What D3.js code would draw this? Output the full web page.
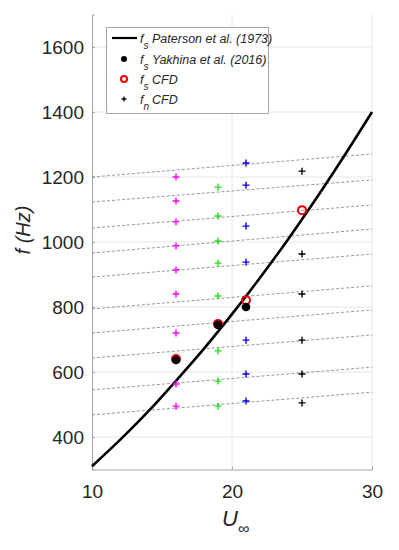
<!DOCTYPE html>
<html>
<head>
<meta charset="utf-8">
<script src="https://cdn.jsdelivr.net/npm/d3@7"></script>
<style>
  html, body { margin: 0; padding: 0; background: #fff; }
  svg { display: block; }
  text { font-family: "Liberation Sans", Arial, sans-serif; }
</style>
</head>
<body>
<svg id="chart" width="399" height="550"></svg>
<script>
// ---- data ----
const xTicks = [10, 20, 30];
const yTicks = [400, 600, 800, 1000, 1200, 1400, 1600];

// Paterson et al. (1973) curve samples
const patersonU = [10, 12, 14, 16, 18, 20, 22, 24, 26, 28, 30];
const patersonF = [310, 391, 478, 573, 672, 778, 890, 1008, 1133, 1264, 1400];

// Yakhina et al. (2016)
const yakhinaU = [16, 19, 21];
const yakhinaF = [637, 745, 800];

// fs CFD
const cfdU = [16, 19, 21, 25];
const cfdF = [640, 748, 821, 1098];

// fn CFD (plus markers) per velocity
const fnU = [16, 19, 21, 25];
const fnColors = ["#ff00ff", "#22dd22", "#0000ee", "#000000"];
const fn16 = [1200, 1126, 1062, 988, 914, 840, 720, 563, 495];
const fn19 = [1169, 1080, 1003, 935, 834, 665, 572, 495];
const fn21 = [1243, 1175, 1049, 938, 698, 594, 511];
const fn25 = [1218, 963, 840, 698, 594, 505];
const fnValues = [fn16, fn19, fn21, fn25];

// dashed mode lines (value at U=10 and U=30)
const modeU = [10, 30];
const modeStart = [1200, 1123, 1043, 966, 892, 794, 720, 643, 545, 468];
const modeEnd = [1271, 1191, 1114, 1040, 963, 865, 791, 714, 615, 538];

// ---- drawing ----
const svg = d3.select("#chart");
const x = d3.scaleLinear().domain([10, 30]).range([92, 372]);
const y = d3.scaleLinear().domain([300, 1700]).range([469.5, 14.5]);

const gridColor = "#e6e6e6";
const axisColor = "#a6a6a6";
const textColor = "#262626";

// grid
svg.append("g").selectAll("line.gy").data(yTicks).join("line")
  .attr("x1", x(10)).attr("x2", x(30))
  .attr("y1", d => y(d)).attr("y2", d => y(d))
  .attr("stroke", gridColor).attr("stroke-width", 1);
svg.append("g").selectAll("line.gx").data(xTicks.slice(1)).join("line")
  .attr("x1", d => x(d)).attr("x2", d => x(d))
  .attr("y1", y(300)).attr("y2", y(1700))
  .attr("stroke", gridColor).attr("stroke-width", 1);

// axes
const xAxis = d3.axisBottom(x).tickValues(xTicks).tickSize(-3).tickPadding(10).tickFormat(d3.format("d"));
const yAxis = d3.axisLeft(y).tickValues(yTicks).tickSize(-3).tickPadding(8).tickFormat(d3.format("d"));

const gx = svg.append("g").attr("transform", `translate(0,${y(300)})`).call(xAxis);
const gy = svg.append("g").attr("transform", `translate(${x(10)},0)`).call(yAxis);
[gx, gy].forEach(g => {
  g.select(".domain").attr("stroke", axisColor).attr("stroke-width", 1);
  g.selectAll(".tick line").attr("stroke", axisColor);
  g.selectAll(".tick text").attr("fill", textColor).attr("font-size", 19)
    .attr("font-family", "'Liberation Sans', Arial, sans-serif");
});
gx.selectAll(".tick text").attr("dy", "0.95em");

// dashed mode lines
const lineGen = d3.line().x(d => x(d[0])).y(d => y(d[1]));
svg.append("g").selectAll("path").data(modeStart.map((s, i) => [[modeU[0], s], [modeU[1], modeEnd[i]]]))
  .join("path")
  .attr("d", lineGen)
  .attr("fill", "none")
  .attr("stroke", "#8c8c8c")
  .attr("stroke-width", 0.9)
  .attr("stroke-dasharray", "3,2");

// Paterson curve
svg.append("path")
  .datum(patersonU.map((u, i) => [u, patersonF[i]]))
  .attr("d", d3.line().curve(d3.curveCatmullRom).x(d => x(d[0])).y(d => y(d[1])))
  .attr("fill", "none").attr("stroke", "#000").attr("stroke-width", 2.6);

// plus markers
function plusPath(cx, cy, s) {
  return `M${cx - s},${cy}H${cx + s}M${cx},${cy - s}V${cy + s}`;
}
const plusData = [];
fnU.forEach((u, i) => fnValues[i].forEach(f => plusData.push({ u, f, c: fnColors[i] })));
svg.append("g").selectAll("path").data(plusData).join("path")
  .attr("d", d => plusPath(x(d.u), y(d.f), 3.5))
  .attr("stroke", d => d.c).attr("stroke-width", 1.4).attr("fill", "none");

// fs CFD red circles
svg.append("g").selectAll("circle").data(cfdU.map((u, i) => [u, cfdF[i]])).join("circle")
  .attr("cx", d => x(d[0])).attr("cy", d => y(d[1])).attr("r", 4)
  .attr("fill", "none").attr("stroke", "#ee0000").attr("stroke-width", 2);

// Yakhina black dots
svg.append("g").selectAll("circle").data(yakhinaU.map((u, i) => [u, yakhinaF[i]])).join("circle")
  .attr("cx", d => x(d[0])).attr("cy", d => y(d[1])).attr("r", 4.3)
  .attr("fill", "#000");

// axis labels
svg.append("text")
  .attr("transform", "translate(30,230) rotate(-90)")
  .attr("text-anchor", "middle")
  .attr("font-size", 20).attr("font-style", "italic").attr("fill", textColor)
  .text("f (Hz)");

const xl = svg.append("text")
  .attr("x", 222).attr("y", 526)
  .attr("font-size", 22).attr("font-style", "italic").attr("fill", textColor);
xl.append("tspan").text("U");
xl.append("tspan").attr("font-size", 16).attr("dy", 8).attr("font-style", "normal").text("∞");

// legend
const lg = svg.append("g");
lg.append("rect").attr("x", 106.5).attr("y", 27.5).attr("width", 162).attr("height", 86)
  .attr("fill", "#fff").attr("stroke", "#a6a6a6").attr("stroke-width", 1);

const legendRows = [
  { sub: "s", label: "Paterson et al. (1973)", type: "line" },
  { sub: "s", label: "Yakhina et al. (2016)", type: "dot" },
  { sub: "s", label: "CFD", type: "ring" },
  { sub: "n", label: "CFD", type: "plus" }
];
const rowY = [38, 59, 79, 99];
legendRows.forEach((r, i) => {
  const cy = rowY[i];
  if (r.type === "line") {
    lg.append("line").attr("x1", 112).attr("x2", 137).attr("y1", cy).attr("y2", cy)
      .attr("stroke", "#000").attr("stroke-width", 2.2);
  } else if (r.type === "dot") {
    lg.append("circle").attr("cx", 124).attr("cy", cy).attr("r", 3).attr("fill", "#000");
  } else if (r.type === "ring") {
    lg.append("circle").attr("cx", 124).attr("cy", cy).attr("r", 3)
      .attr("fill", "none").attr("stroke", "#ee0000").attr("stroke-width", 2);
  } else {
    lg.append("path").attr("d", plusPath(124, cy, 2.5)).attr("stroke", "#000").attr("stroke-width", 1.3);
  }
  const t = lg.append("text").attr("x", 140).attr("y", cy + 4.5)
    .attr("font-size", 12.5).attr("font-style", "italic").attr("fill", textColor);
  t.append("tspan").text("f");
  t.append("tspan").attr("font-size", 10).attr("dy", 6).text(r.sub);
  t.append("tspan").attr("x", 152).attr("dy", -6).text(r.label);
});
</script>
</body>
</html>
